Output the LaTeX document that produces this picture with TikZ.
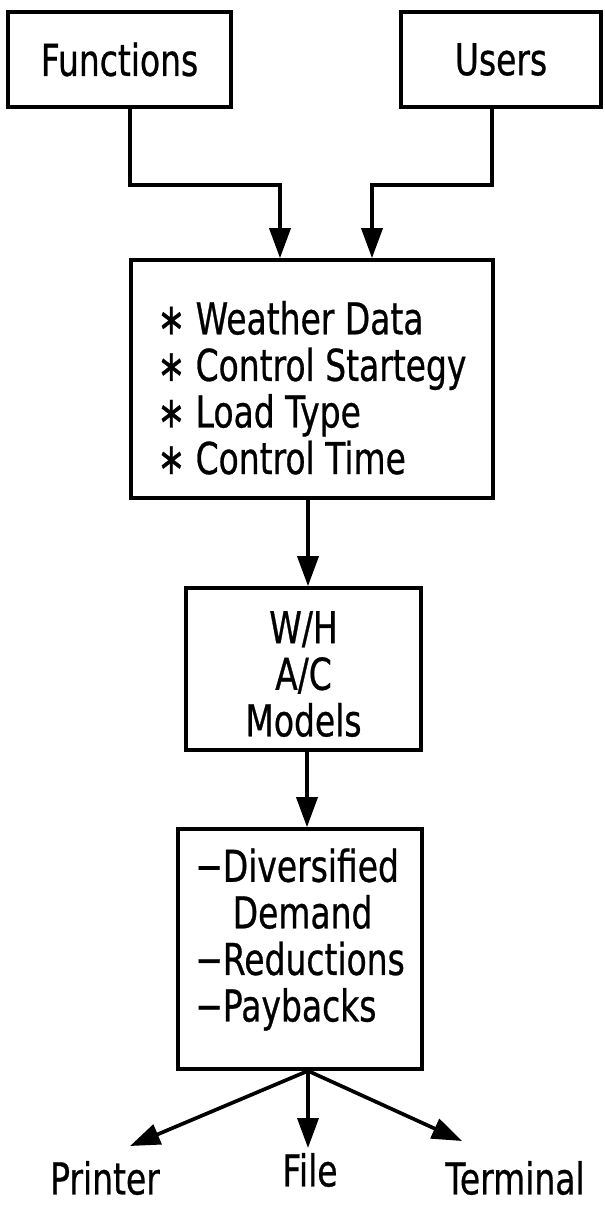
\documentclass[tikz,border=0pt]{standalone}
\usepackage{fontspec}
\setmainfont{DejaVu Sans}[FakeStretch=0.75,FakeBold=0.6]
\usetikzlibrary{arrows.meta, positioning, calc}

\begin{document}
\begin{tikzpicture}[
  box/.style={draw, line width=2.1pt, inner sep=0pt},
  arr/.style={-{Triangle[length=0.6cm,width=0.42cm]}, line width=2.1pt},
  every node/.style={font=\fontsize{25}{26.5}\selectfont}
]
\useasboundingbox (0,0) rectangle (12.08,-24.12);

% Inputs
\node[box, minimum width=4.46cm, minimum height=1.9cm] (func) at (2.39,-1.19) {Functions};
\node[box, minimum width=4.0cm, minimum height=1.9cm] (users) at (10.02,-1.19) {Users};

% Data box
\node[box, minimum width=7.24cm, minimum height=4.76cm, align=left] (data) at (6.24,-7.58)
  {\rule{0pt}{29pt}∗ Weather Data\\ ∗ Control Startegy\\ ∗ Load Type\\ ∗ Control Time};

% Models
\node[box, minimum width=4.7cm, minimum height=3.24cm, align=center] (models) at (6.07,-13.38)
  {\rule{0pt}{24pt}W/H\\ A/C\\ Models};

% Results
\node[box, minimum width=4.88cm, minimum height=4.8cm, align=left] (results) at (6.00,-18.98)
  {−Diversified\\ \hspace*{0.75cm}Demand\\ −Reductions\\ −Paybacks\rule[-16pt]{0pt}{1pt}};

% Outputs
\node (printer) at (2.10,-23.56) {Printer};
\node (file) at (6.20,-23.40) {File};
\node (terminal) at (10.30,-23.56) {Terminal};
\coordinate (ptip) at (2.60,-22.92);
\coordinate (ftip) at (6.16,-22.96);
\coordinate (ttip) at (9.24,-22.82);

% Connectors
\draw[arr] ([xshift=0.21cm]func.south) -- ++(0,-1.52) -| ([xshift=-0.64cm]data.north);
\draw[arr] ([xshift=-0.18cm]users.south) -- ++(0,-1.52) -| ([xshift=1.2cm]data.north);
\draw[arr] ([xshift=-0.08cm]data.south) -- ([xshift=0.09cm]models.north);
\draw[arr] ([xshift=0.07cm]models.south) -- ([xshift=0.14cm]results.north);
\draw[arr] ([xshift=0.16cm]results.south) -- (ptip);
\draw[arr] ([xshift=0.16cm]results.south) -- (ftip);
\draw[arr] ([xshift=0.16cm]results.south) -- (ttip);
\end{tikzpicture}
\end{document}
